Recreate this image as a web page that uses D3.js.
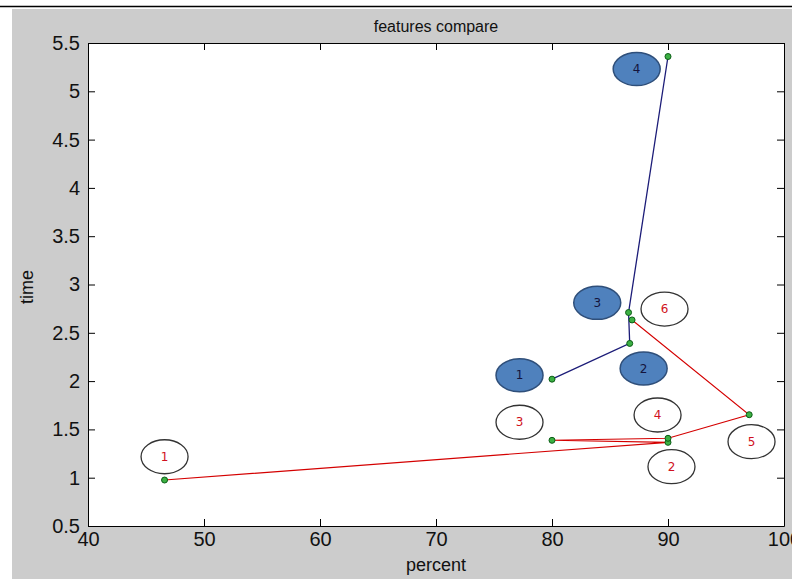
<!DOCTYPE html>
<html><head><meta charset="utf-8">
<script src="https://cdn.jsdelivr.net/npm/d3@7"></script>
<style>
html,body{margin:0;padding:0;background:#fff;}
svg{display:block;}
text{font-family:"Liberation Sans",Arial,sans-serif;}
</style></head>
<body>
<svg id="chart" width="792" height="579"></svg>
<script>
// ---- data ----
const title = "features compare";
const xLabel = "percent";
const yLabel = "time";
const xTicks = [40, 50, 60, 70, 80, 90, 100];
const yTicks = [0.5, 1, 1.5, 2, 2.5, 3, 3.5, 4, 4.5, 5, 5.5];

const bluePercent = [80.0, 86.7, 86.6, 90.0];
const blueTime    = [2.02, 2.39, 2.71, 5.36];
const blueNames   = ["1", "2", "3", "4"];
const blueLabelPercent = [77.2, 87.9, 83.9, 87.3];
const blueLabelTime    = [2.06, 2.13, 2.81, 5.23];

const redPercent = [46.6, 90.0, 80.0, 90.0, 97.0, 86.9];
const redTime    = [0.976, 1.366, 1.387, 1.408, 1.652, 2.633];
const redNames   = ["1", "2", "3", "4", "5", "6"];
const redLabelPercent = [46.6, 90.3, 77.2, 89.1, 97.2, 89.7];
const redLabelTime    = [1.217, 1.114, 1.574, 1.649, 1.373, 2.746];

// ---- layout ----
const svg = d3.select("#chart");
const W = 792, H = 579;
const L = 88, R = 784, T = 43, B = 526;

// backgrounds
svg.append("rect").attr("x",0).attr("y",0).attr("width",W).attr("height",H).attr("fill","#fff");
svg.append("rect").attr("x",12).attr("y",9).attr("width",W-12).attr("height",H-9).attr("fill","#cccccc");
svg.append("line").attr("x1",0).attr("x2",W).attr("y1",6.5).attr("y2",6.5).attr("stroke","#000").attr("stroke-width",1.5);
svg.append("rect").attr("x",L).attr("y",T).attr("width",R-L).attr("height",B-T).attr("fill","#fff");

const x = d3.scaleLinear().domain([40,100]).range([L,R]);
const y = d3.scaleLinear().domain([0.5,5.5]).range([B,T]);

const fmt = d => String(d);
const axStyle = g => {
  g.selectAll("path.domain").attr("stroke","#000").attr("stroke-width",1);
  g.selectAll(".tick line").attr("stroke","#000");
  g.selectAll(".tick text").attr("fill","#111").style("font-size","20px").style("font-family","'Liberation Sans',Arial,sans-serif");
};

svg.append("g").attr("transform",`translate(0,${B})`)
  .call(d3.axisBottom(x).tickValues(xTicks).tickFormat(fmt).tickSizeInner(-7).tickSizeOuter(0).tickPadding(6))
  .call(axStyle);
svg.append("g").attr("transform",`translate(${L},0)`)
  .call(d3.axisLeft(y).tickValues(yTicks).tickFormat(fmt).tickSizeInner(-7).tickSizeOuter(0).tickPadding(8))
  .call(axStyle);
svg.append("g").attr("transform",`translate(0,${T})`)
  .call(d3.axisTop(x).tickValues(xTicks).tickFormat("").tickSizeInner(-7).tickSizeOuter(0))
  .call(axStyle);
svg.append("g").attr("transform",`translate(${R},0)`)
  .call(d3.axisRight(y).tickValues(yTicks).tickFormat("").tickSizeInner(-7).tickSizeOuter(0))
  .call(axStyle);

// titles
svg.append("text").attr("x",(L+R)/2).attr("y",32).attr("text-anchor","middle")
  .style("font-size","16px").attr("fill","#111").text(title);
svg.append("text").attr("x",(L+R)/2).attr("y",571).attr("text-anchor","middle")
  .style("font-size","18px").attr("fill","#111").text(xLabel);
svg.append("text").attr("transform",`translate(33,287) rotate(-90)`).attr("text-anchor","middle")
  .style("font-size","18px").attr("fill","#111").text(yLabel);

// lines
const line = d3.line().x(d=>x(d[0])).y(d=>y(d[1]));
const blue = bluePercent.map((p,i)=>[p, blueTime[i]]);
const red = redPercent.map((p,i)=>[p, redTime[i]]);
svg.append("path").datum(red).attr("d",line).attr("fill","none").attr("stroke","#d40000").attr("stroke-width",1.1);
svg.append("path").datum(blue).attr("d",line).attr("fill","none").attr("stroke","#1c1c78").attr("stroke-width",1.3);

// points
[...blue, ...red].forEach(d=>{
  svg.append("circle").attr("cx",x(d[0])).attr("cy",y(d[1])).attr("r",3)
    .attr("fill","#3cb043").attr("stroke","#0b5d16").attr("stroke-width",1);
});

// annotation ellipses
blueNames.forEach((n,i)=>{
  const cx = x(blueLabelPercent[i]), cy = y(blueLabelTime[i]);
  svg.append("ellipse").attr("cx",cx).attr("cy",cy).attr("rx",23.5).attr("ry",16.5)
    .attr("fill","#4f81bd").attr("stroke","#2f4f7a").attr("stroke-width",1.5);
  svg.append("text").attr("x",cx).attr("y",cy+4).attr("text-anchor","middle")
    .style("font-size","12px").style("font-family","'DejaVu Sans',sans-serif").attr("fill","#14143c").text(n);
});
redNames.forEach((n,i)=>{
  const cx = x(redLabelPercent[i]), cy = y(redLabelTime[i]);
  svg.append("ellipse").attr("cx",cx).attr("cy",cy).attr("rx",23.5).attr("ry",17)
    .attr("fill","#fff").attr("stroke","#333").attr("stroke-width",1.3);
  svg.append("text").attr("x",cx).attr("y",cy+4).attr("text-anchor","middle")
    .style("font-size","12px").style("font-family","'DejaVu Sans',sans-serif").attr("fill","#d01020").text(n);
});
</script>
</body></html>
